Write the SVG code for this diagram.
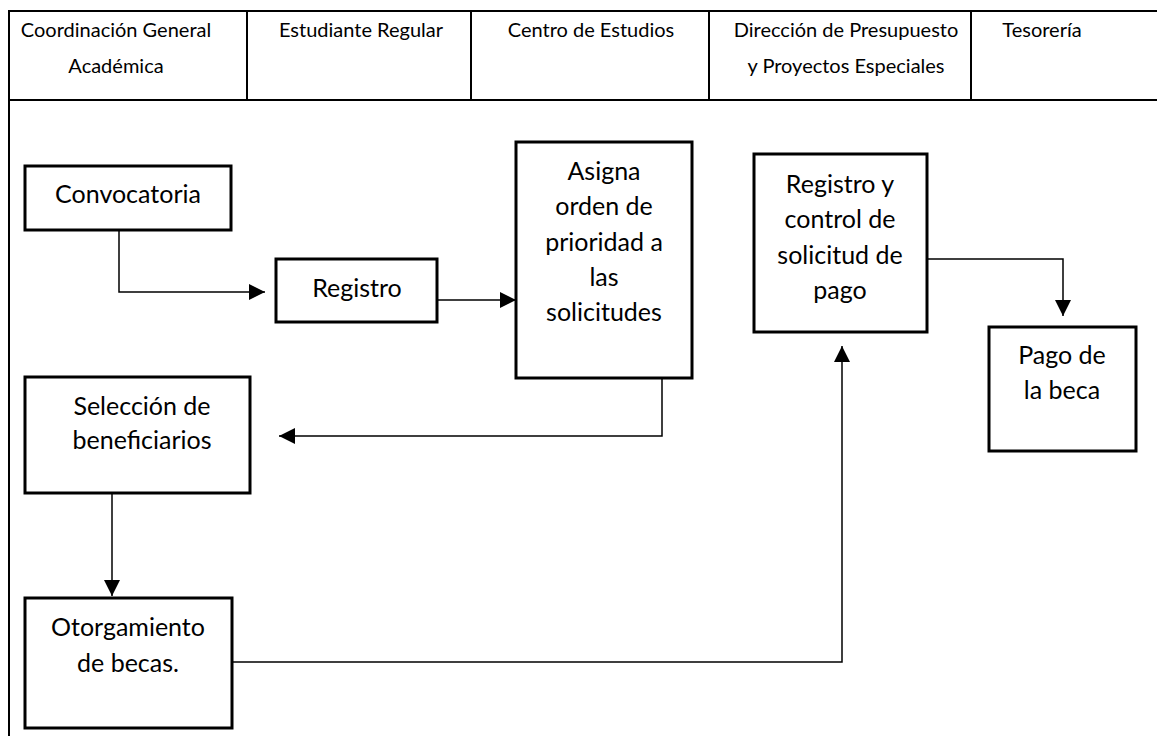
<svg xmlns="http://www.w3.org/2000/svg" width="1157" height="736" viewBox="0 0 1157 736">
<style>
.frame{fill:none;stroke:#000;stroke-width:2}
.box{fill:#fff;stroke:#000;stroke-width:3}
.con{fill:none;stroke:#000;stroke-width:1.5}
.h{font-family:Lato,"Open Sans",sans-serif;font-size:20px;fill:#000;text-anchor:middle}
.t{font-family:Lato,"Open Sans",sans-serif;font-size:25px;fill:#000;text-anchor:middle}
</style>
<defs>
<marker id="arr" markerUnits="userSpaceOnUse" markerWidth="17" markerHeight="16" refX="16" refY="8" orient="auto">
<path d="M0,0 L16,8 L0,16 Z" fill="#000"/>
</marker>
</defs>
<rect width="1157" height="736" fill="#fff"/>
<g id="header">
<path class="frame" d="M1157,11 H9 V736 M9,100 H1157 M247,11 V100 M471,11 V100 M709,11 V100 M971,11 V100"/>
<text class="h" x="116" y="37">Coordinación General</text>
<text class="h" x="116" y="73">Académica</text>
<text class="h" x="361" y="37">Estudiante Regular</text>
<text class="h" x="591" y="37">Centro de Estudios</text>
<text class="h" x="846" y="37">Dirección de Presupuesto</text>
<text class="h" x="846" y="73">y Proyectos Especiales</text>
<text class="h" x="1042" y="37">Tesorería</text>
</g>
<g id="connectors">
<path class="con" d="M119,230 V292 H265" marker-end="url(#arr)"/>
<path class="con" d="M437,300 H516" marker-end="url(#arr)"/>
<path class="con" d="M662,378 V436 H279" marker-end="url(#arr)"/>
<path class="con" d="M112,493 V596" marker-end="url(#arr)"/>
<path class="con" d="M232,662 H842 V346" marker-end="url(#arr)"/>
<path class="con" d="M927,259 H1063 V316" marker-end="url(#arr)"/>
</g>
<g id="convocatoria">
<rect class="box" x="25" y="166" width="206" height="64"/>
<text class="t" x="128" y="203">Convocatoria</text>
</g>
<g id="registro">
<rect class="box" x="276" y="259" width="161" height="63"/>
<text class="t" x="357" y="297">Registro</text>
</g>
<g id="asigna">
<rect class="box" x="516" y="142" width="176" height="236"/>
<text class="t" x="604" y="180">Asigna</text>
<text class="t" x="604" y="215">orden de</text>
<text class="t" x="604" y="251">prioridad a</text>
<text class="t" x="604" y="286">las</text>
<text class="t" x="604" y="321">solicitudes</text>
</g>
<g id="registro-control">
<rect class="box" x="754" y="154" width="173" height="178"/>
<text class="t" x="840" y="193">Registro y</text>
<text class="t" x="840" y="228">control de</text>
<text class="t" x="840" y="264">solicitud de</text>
<text class="t" x="840" y="299">pago</text>
</g>
<g id="pago">
<rect class="box" x="989" y="327" width="147" height="124"/>
<text class="t" x="1062" y="364">Pago de</text>
<text class="t" x="1062" y="399">la beca</text>
</g>
<g id="seleccion">
<rect class="box" x="25" y="377" width="225" height="116"/>
<text class="t" x="142" y="415">Selección de</text>
<text class="t" x="142" y="449">beneficiarios</text>
</g>
<g id="otorgamiento">
<rect class="box" x="25" y="598" width="207" height="130"/>
<text class="t" x="128" y="636">Otorgamiento</text>
<text class="t" x="128" y="672">de becas.</text>
</g>
</svg>
